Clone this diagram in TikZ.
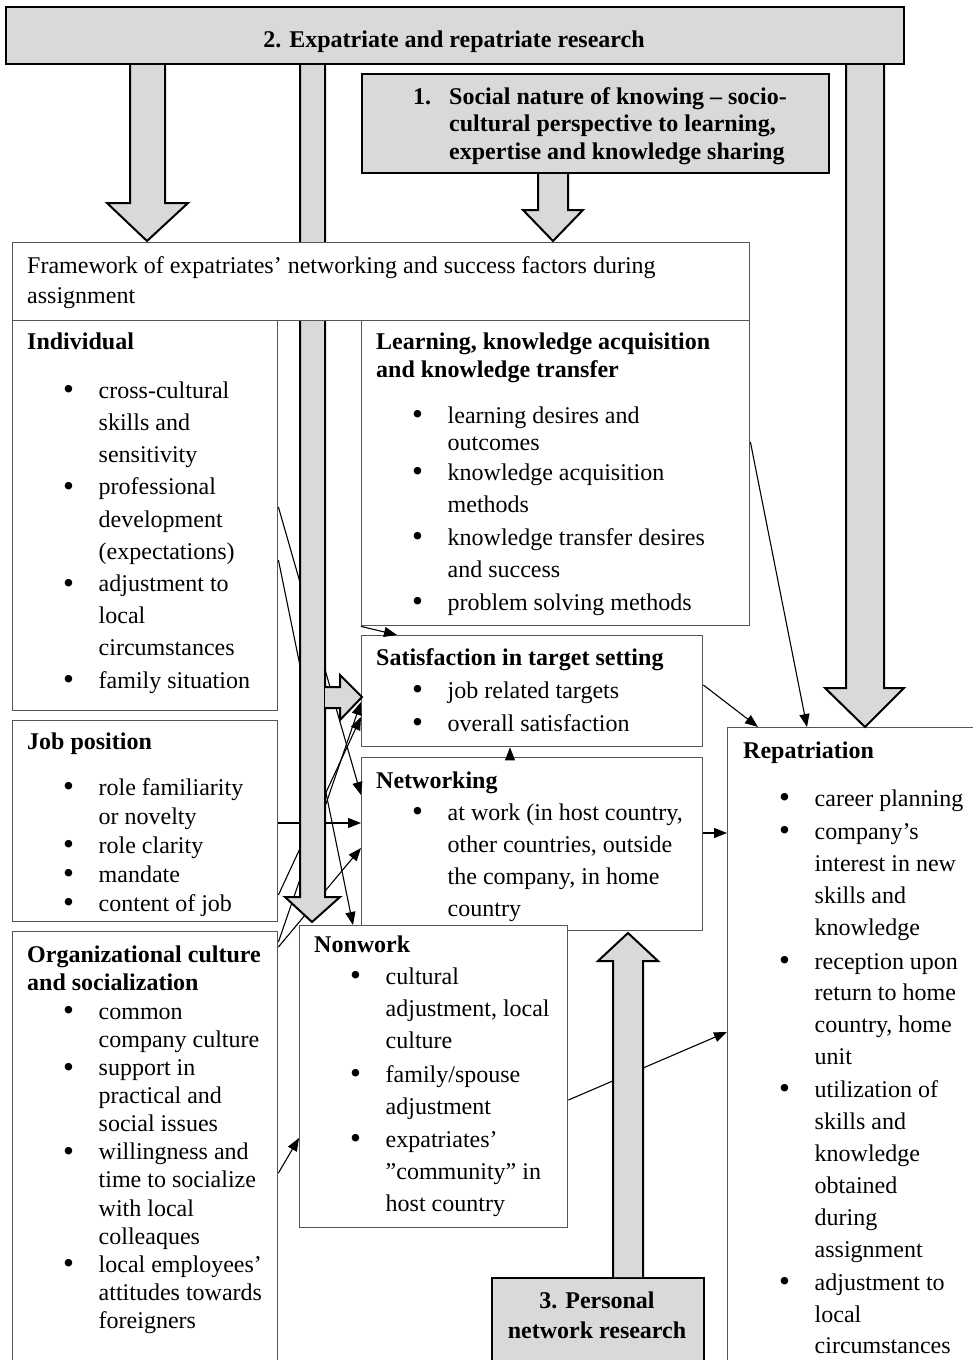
\documentclass[tikz,border=0pt]{standalone}
\usepackage{fontspec}
\setmainfont{Liberation Serif}
\usetikzlibrary{arrows.meta}
\definecolor{boxgray}{RGB}{217,217,217}
\definecolor{edgegray}{RGB}{85,85,85}
\newcommand\fs{\rule{0pt}{20pt}}
\newcommand\bu{\hspace*{36pt}\makebox[35.5pt][l]{\raisebox{-1.6pt}{\scalebox{1.3}{\textbullet}}}}
\newcommand\cn{\hspace*{71.5pt}}
\begin{document}
\begin{tikzpicture}[x=1pt,y=-1pt,
 gbox/.style={draw=black,line width=2pt,fill=boxgray,inner sep=0pt,anchor=north west},
 wbox/.style={draw=edgegray,line width=1.4pt,fill=white,inner sep=0pt,anchor=north west},
 txt/.style={anchor=north west,inner sep=0pt,align=left,font=\fontsize{24}{32}\selectfont},
 blk/.style={draw=black,line width=2pt,fill=boxgray,line join=miter},
 con/.style={line width=1.1pt,-{Triangle[length=13pt,width=10pt]}}]
\clip (0,0) rectangle (973,1360);
\fill[white] (0,0) rectangle (973,1360);

% boxes
\node[wbox,minimum width=265pt,minimum height=390pt] (ind) at (12,320) {};
\node[wbox,minimum width=265pt,minimum height=201pt] (job) at (12,720) {};
\node[wbox,minimum width=265pt,minimum height=460pt] (org) at (12,931) {};
\node[wbox,minimum width=388pt,minimum height=305pt] (learn) at (361,320) {};
\node[wbox,minimum width=341pt,minimum height=111pt] (sat) at (361,635) {};
\node[wbox,minimum width=341pt,minimum height=173pt] (net) at (361,757) {};
\node[wbox,minimum width=268pt,minimum height=302pt] (nonw) at (299,925) {};
\node[wbox,minimum width=270pt,minimum height=660pt] (rep) at (727,727) {};
\node[gbox,minimum width=212pt,minimum height=100pt] (pers) at (491,1277) {};

% thin connectors
\draw[con] (ind.east |- 0,507) -- (net.west |- 0,795);
\draw[con] (ind.east |- 0,560) -- (nonw.north -| 353,0);
\draw[con] (job.east |- 0,823) -- (net.west |- 0,823);
\draw[con] (job.east |- 0,895) -- (sat.west |- 0,717);
\draw[con] (org.east |- 0,942) -- (sat.west |- 0,702);
\draw[con] (org.east |- 0,947) -- (net.west |- 0,848);
\draw[con] (org.east |- 0,1173) -- (nonw.west |- 0,1138);
\draw[con] (learn.east |- 0,442) -- (rep.north -| 807,0);
\draw[con] (sat.east |- 0,685) -- (rep.north -| 758,0);
\draw[con] (net.east |- 0,833) -- (rep.west |- 0,833);
\draw[con] (nonw.east |- 0,1100) -- (rep.west |- 0,1032);
\draw[con] (net.north -| 510,0) -- (sat.south -| 510,0);
\draw[con] (learn.south west) -- (sat.north -| 397,0);

% block arrows
\path[blk] (130,65) -- (130,203) -- (107,203) -- (147,241) -- (188,203) -- (165,203) -- (165,65);
\path[blk] (846,65) -- (846,688) -- (825,688) -- (865,727) -- (904,688) -- (884,688) -- (884,65);
\path[blk] (300,65) -- (300,897) -- (285,897) -- (312,922) -- (340,897) -- (325,897) -- (325,65);
\path[blk] (325,687) -- (340,687) -- (340,675) -- (362,697) -- (340,720) -- (340,708) -- (325,708);
\path[blk] (613,1277) -- (613,961) -- (598,961) -- (628,933) -- (658,961) -- (643,961) -- (643,1277);

% top boxes
\node[gbox,minimum width=898pt,minimum height=57pt] (banner) at (5,6) {};
\node[gbox,minimum width=467pt,minimum height=99pt] (soc) at (361,73) {};
\path[blk] (538,174) -- (538,210) -- (523,210) -- (553,241) -- (583,210) -- (568,210) -- (568,174);
\node[wbox,minimum width=737pt,minimum height=78pt] (frame) at (12,242) {};

% texts
\node[font=\fontsize{24}{32}\selectfont\bfseries,inner sep=0pt] (tbanner) at (454,42) {2. Expatriate and repatriate research};
\node[txt,font=\fontsize{24}{27.5}\selectfont\bfseries] (tsoc) at (413,84) {\fs\makebox[36pt][l]{1.}Social nature of knowing -- socio-\\
\hspace*{36pt}cultural perspective to learning,\\
\hspace*{36pt}expertise and knowledge sharing};
\node[txt,font=\fontsize{24}{30}\selectfont] (tframe) at (27,253) {\fs Framework of expatriates’ networking and success factors during\\assignment};
\node[txt,font=\fontsize{24}{32.2}\selectfont] (tind) at (27,329) {\fs\textbf{Individual}\\[16.8pt]
\bu cross-cultural\\
\cn skills and\\
\cn sensitivity\\
\bu professional\\
\cn development\\
\cn (expectations)\\
\bu adjustment to\\
\cn local\\
\cn circumstances\\
\bu family situation};
\node[txt,font=\fontsize{24}{29}\selectfont] (tjob) at (27,729) {\fs\textbf{Job position}\\[17pt]
\bu role familiarity\\
\cn or novelty\\
\bu role clarity\\
\bu mandate\\
\bu content of job};
\node[txt,font=\fontsize{24}{28.1}\selectfont] (torg) at (27,942) {\fs\textbf{Organizational culture}\\
\textbf{and socialization}\\[0.9pt]
\bu common\\
\cn company culture\\
\bu support in\\
\cn practical and\\
\cn social issues\\
\bu willingness and\\
\cn time to socialize\\
\cn with local\\
\cn colleaques\\
\bu local employees’\\
\cn attitudes towards\\
\cn foreigners};
\node[txt] (tlearn) at (376,329) {\fs\textbf{Learning, knowledge acquisition}\\[-4pt]
\textbf{and knowledge transfer}\\[14pt]
\bu learning desires and\\[-5pt]
\cn outcomes\\[-2pt]
\bu knowledge acquisition\\
\cn methods\\[1pt]
\bu knowledge transfer desires\\
\cn and success\\[1pt]
\bu problem solving methods};
\node[txt,font=\fontsize{24}{33}\selectfont] (tsat) at (376,645) {\fs\textbf{Satisfaction in target setting}\\
\bu job related targets\\
\bu overall satisfaction};
\node[txt] (tnet) at (376,768) {\fs\textbf{Networking}\\
\bu at work (in host country,\\
\cn other countries, outside\\
\cn the company, in home\\
\cn country};
\node[txt] (tnonw) at (314,932) {\fs\textbf{Nonwork}\\
\bu cultural\\
\cn adjustment, local\\
\cn culture\\[2pt]
\bu family/spouse\\
\cn adjustment\\[1pt]
\bu expatriates’\\
\cn ”community” in\\
\cn host country};
\node[txt] (trep) at (743,738) {\fs\textbf{Repatriation}\\[16pt]
\bu career planning\\[1pt]
\bu company’s\\
\cn interest in new\\
\cn skills and\\
\cn knowledge\\[2pt]
\bu reception upon\\[-1pt]
\cn return to home\\
\cn country, home\\
\cn unit\\[1pt]
\bu utilization of\\
\cn skills and\\
\cn knowledge\\
\cn obtained\\
\cn during\\
\cn assignment\\[1pt]
\bu adjustment to\\
\cn local\\[-1pt]
\cn circumstances};
\node[anchor=north,inner sep=0pt,align=center,font=\fontsize{24}{30}\selectfont\bfseries] (tpers) at (597,1288) {\fs 3. Personal\\network research};
\end{tikzpicture}
\end{document}
